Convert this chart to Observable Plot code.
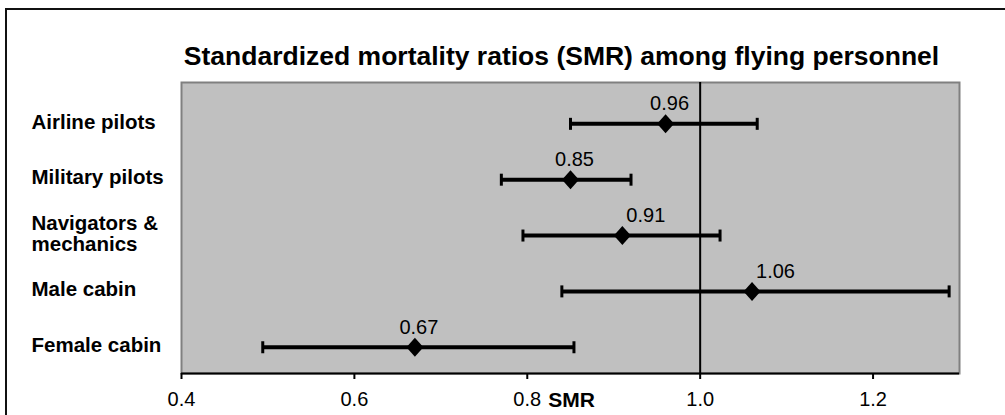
<!DOCTYPE html>
<html>
<head>
<meta charset="utf-8">
<script src="https://cdn.jsdelivr.net/npm/d3@7"></script>
<script src="https://cdn.jsdelivr.net/npm/@observablehq/plot@0.6"></script>
<style>
  html, body { margin: 0; padding: 0; background: #fff; }
  #wrap { position: relative; width: 1005px; height: 415px; overflow: hidden; }
  #outer { position: absolute; left: 5px; top: 8px; width: 1100px; height: 500px;
           border-top: 2px solid #111; border-left: 2px solid #111; pointer-events: none; }
</style>
</head>
<body>
<div id="wrap"><div id="outer"></div></div>
<script>
const titleText = "Standardized mortality ratios (SMR) among flying personnel";
const categories = ["Airline pilots", "Military pilots", "Navigators &\nmechanics", "Male cabin", "Female cabin"];
const smr   = [0.96, 0.85, 0.91, 1.06, 0.67];
const lower = [0.85, 0.77, 0.795, 0.84, 0.494];
const upper = [1.066, 0.92, 1.023, 1.288, 0.854];
const labelAlign = ["middle", "middle", "start", "start", "middle"];
const xTicks = [0.4, 0.6, 0.8, 1.0, 1.2];
const axisLabel = "SMR";

const rows = categories.map((c, i) => ({
  cat: c, pos: categories.length - 1 - i, smr: smr[i], lo: lower[i], hi: upper[i], align: labelAlign[i]
}));

const yDomain = [-0.47, 4.74];
const font = "'Liberation Sans', Arial, sans-serif";

const capSymbol = { draw(ctx) { ctx.rect(-1.5, -6, 3, 12); } };
const diamondSymbol = { draw(ctx) { ctx.moveTo(0, -9.5); ctx.lineTo(8.5, 0); ctx.lineTo(0, 9.5); ctx.lineTo(-8.5, 0); ctx.closePath(); } };

const valueLabel = (anchor) => Plot.text(rows.filter(d => d.align === anchor), {
  x: "smr", y: "pos", text: d => d3.format(".2f")(d.smr),
  textAnchor: anchor, dy: -20, dx: 4, fontSize: 20, fill: "#000"
});

const chart = Plot.plot({
  width: 1005,
  height: 415,
  marginLeft: 181,
  marginRight: 46,
  marginTop: 82,
  marginBottom: 42,
  style: { fontFamily: font, fontSize: "20px", color: "#000", background: "transparent", overflow: "visible" },
  x: { domain: [0.4, 1.3] },
  y: { domain: yDomain, axis: null },
  marks: [
    Plot.frame({ fill: "#c0c0c0", stroke: "#808080", strokeWidth: 2 }),
    Plot.ruleY([yDomain[0]], { stroke: "#000", strokeWidth: 2 }),
    Plot.ruleX([1.0], { stroke: "#000", strokeWidth: 2 }),
    Plot.axisX({ ticks: xTicks, tickFormat: d3.format(".1f"), tickSize: 6, tickPadding: 12, strokeWidth: 2, fontSize: 20 }),
    Plot.link(rows, { x1: "lo", x2: "hi", y1: "pos", y2: "pos", stroke: "#000", strokeWidth: 4 }),
    Plot.dot(rows, { x: "lo", y: "pos", symbol: capSymbol, fill: "#000", stroke: "none" }),
    Plot.dot(rows, { x: "hi", y: "pos", symbol: capSymbol, fill: "#000", stroke: "none" }),
    Plot.dot(rows, { x: "smr", y: "pos", symbol: diamondSymbol, fill: "#000", stroke: "none" }),
    valueLabel("middle"),
    valueLabel("start"),
    Plot.text(rows, { y: "pos", text: "cat", frameAnchor: "left", textAnchor: "start", dx: -150, dy: -2, fontWeight: "bold", fontSize: 20.5, lineHeight: 1.02, fill: "#000" }),
    Plot.text([titleText], { frameAnchor: "top", lineAnchor: "middle", dy: -26, dx: -9, fontWeight: "bold", fontSize: 26.5, fill: "#000" }),
    Plot.text([axisLabel], { frameAnchor: "bottom", lineAnchor: "middle", dy: 27, dx: 1, fontWeight: "bold", fontSize: 21, fill: "#000" })
  ]
});
document.getElementById("wrap").prepend(chart);
chart.style.position = "absolute";
chart.style.left = "0";
chart.style.top = "0";
</script>
</body>
</html>
